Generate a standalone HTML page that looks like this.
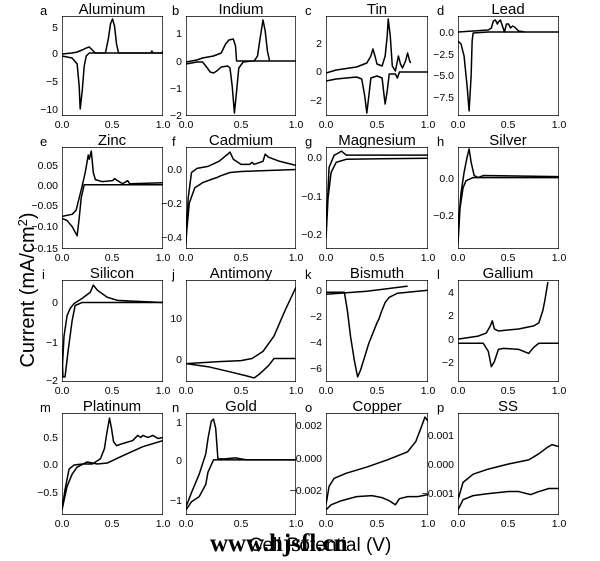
<!DOCTYPE html>
<html><head><meta charset="utf-8"><style>
html,body{margin:0;padding:0;background:#fff;}
svg{display:block;font-family:"Liberation Sans",sans-serif;}
.t{font-size:15px;text-anchor:middle;}
.l{font-size:13px;}
.y{font-size:10.5px;text-anchor:end;}
.x{font-size:10.5px;text-anchor:middle;}
polyline{fill:none;stroke:#000;stroke-width:1.5;vector-effect:non-scaling-stroke;stroke-linejoin:round;}
rect{fill:none;stroke:#000;stroke-width:1.4;vector-effect:non-scaling-stroke;}
</style></head><body>
<svg width="600" height="561" viewBox="0 0 600 561">
<!-- Row 1 -->
<svg x="62" y="16" width="101" height="100" viewBox="0 0 100 100" preserveAspectRatio="none"><rect x="0" y="0" width="100" height="100"/>
<polyline points="0,40 10,42 15,48 17,70 18,93 20,75 22,50 24,40 27,37 100,37"/>
<polyline points="0,38 10,37 15,36 20,34 24,32 27,31 30,34 33,37 43,37 46,22 48,8 50,3 52,10 54,28 56,37 88,37 89,35 90,37 99,37 100,35"/></svg>
<svg x="186" y="16" width="110" height="100" viewBox="0 0 100 100" preserveAspectRatio="none"><rect x="0" y="0" width="100" height="100"/>
<polyline points="0,48 10,46 15,46 18,50 22,56 25,57 28,55 32,51 38,50 40,52 42,70 44,97 46,75 48,52 52,46 60,45 100,45"/>
<polyline points="0,46 10,44 15,42 25,40 32,37 36,28 39,24 43,23 45,30 46,45 62,45 65,40 67,25 70,4 72,15 74,35 76,45"/></svg>
<svg x="326" y="16" width="102" height="100" viewBox="0 0 100 100" preserveAspectRatio="none"><rect x="0" y="0" width="100" height="100"/>
<polyline points="0,65 10,63 30,61 35,63 38,80 40,97 42,80 44,62 50,60 55,62 57,80 58,88 60,75 62,58 68,58 70,62 72,56 100,56"/>
<polyline points="0,57 10,54 30,51 40,47 44,40 46,33 48,40 50,48 55,50 58,40 60,20 61,3 63,20 65,50 68,55 71,40 73,48 75,52 78,45 80,37 82,45 83,47"/></svg>
<svg x="458" y="16" width="101" height="100" viewBox="0 0 100 100" preserveAspectRatio="none"><rect x="0" y="0" width="100" height="100"/>
<polyline points="0,25 3,28 6,40 9,70 11,95 13,60 14,25 15,17 30,16 100,16"/>
<polyline points="0,16 15,15 30,14 33,12 35,5 37,4 39,8 40,6 42,4 44,10 46,16 48,8 50,8 52,12 54,10 56,11 58,13 60,15 66,16"/></svg>
<!-- Row 2 -->
<svg x="62" y="147" width="101" height="102" viewBox="0 0 100 100" preserveAspectRatio="none"><rect x="0" y="0" width="100" height="100"/>
<polyline points="0,70 5,72 10,78 15,87 17,70 19,50 22,37 100,37"/>
<polyline points="0,68 10,66 14,62 17,50 20,38 23,25 26,8 27,12 29,4 31,25 33,32 40,34 50,33 52,31 55,33 60,36 65,33 67,36 100,35"/></svg>
<svg x="186" y="147" width="110" height="102" viewBox="0 0 100 100" preserveAspectRatio="none"><rect x="0" y="0" width="100" height="100"/>
<polyline points="0,95 2,50 5,25 10,21 20,19 30,14 38,7 40,5 43,12 50,17 58,17 60,15 62,17 70,14 72,7 75,10 85,14 100,18"/>
<polyline points="0,90 3,55 8,40 15,35 25,31 28,30 32,28 40,25 50,24 100,22"/></svg>
<svg x="326" y="147" width="102" height="102" viewBox="0 0 100 100" preserveAspectRatio="none"><rect x="0" y="0" width="100" height="100"/>
<polyline points="0,90 2,50 5,25 10,15 20,12 100,11"/>
<polyline points="0,85 3,20 8,8 12,6 15,4 20,8 40,8 100,8"/></svg>
<svg x="458" y="147" width="101" height="102" viewBox="0 0 100 100" preserveAspectRatio="none"><rect x="0" y="0" width="100" height="100"/>
<polyline points="0,95 2,60 5,40 8,33 15,30 100,30"/>
<polyline points="0,80 3,45 6,25 9,10 11,2 13,15 16,28 20,30 25,28 100,29"/></svg>
<!-- Row 3 -->
<svg x="62" y="280" width="101" height="102" viewBox="0 0 100 100" preserveAspectRatio="none"><rect x="0" y="0" width="100" height="100"/>
<polyline points="0,75 1,95 3,95 6,70 10,40 13,25 20,22 100,22"/>
<polyline points="0,92 2,55 5,35 8,28 12,23 20,18 28,12 31,5 35,10 45,17 55,20 100,22"/></svg>
<svg x="186" y="280" width="110" height="102" viewBox="0 0 100 100" preserveAspectRatio="none"><rect x="0" y="0" width="100" height="100"/>
<polyline points="0,82 20,85 40,90 55,94 62,96 67,92 75,84 80,77 100,77"/>
<polyline points="0,82 30,80 50,79 60,77 70,70 80,55 90,30 100,7"/></svg>
<svg x="326" y="280" width="102" height="102" viewBox="0 0 100 100" preserveAspectRatio="none"><rect x="0" y="0" width="100" height="100"/>
<polyline points="0,14 40,11 80,6"/>
<polyline points="0,12 18,12 21,30 24,55 28,80 31,95 34,88 38,75 42,62 46,52 50,42 52,38 54,32 58,22 62,17 70,13 100,10"/></svg>
<svg x="458" y="280" width="101" height="102" viewBox="0 0 100 100" preserveAspectRatio="none"><rect x="0" y="0" width="100" height="100"/>
<polyline points="0,62 25,62 30,70 33,85 36,80 40,68 45,67 60,68 70,72 75,66 80,62 100,62"/>
<polyline points="0,58 20,55 28,52 32,45 34,40 36,48 40,50 60,48 75,45 80,42 84,30 86,20 88,8 89,2"/></svg>
<!-- Row 4 -->
<svg x="62" y="413" width="101" height="102" viewBox="0 0 100 100" preserveAspectRatio="none"><rect x="0" y="0" width="100" height="100"/>
<polyline points="0,95 3,75 7,55 12,51 20,50 30,50 38,45 42,35 44,22 47,5 49,15 51,28 54,32 60,30 70,27 75,22 78,24 80,22 85,24 90,22 95,25 100,24"/>
<polyline points="0,95 5,72 10,60 15,53 25,48 35,50 45,49 60,42 80,33 100,27"/></svg>
<svg x="186" y="413" width="110" height="102" viewBox="0 0 100 100" preserveAspectRatio="none"><rect x="0" y="0" width="100" height="100"/>
<polyline points="0,92 5,78 12,60 15,50 18,40 20,25 23,8 25,6 27,15 29,45 35,45 45,44 55,46 100,46"/>
<polyline points="0,95 5,87 12,82 18,70 20,58 25,46 100,46"/></svg>
<svg x="326" y="413" width="102" height="102" viewBox="0 0 100 100" preserveAspectRatio="none"><rect x="0" y="0" width="100" height="100"/>
<polyline points="0,90 3,72 8,64 20,59 40,53 60,46 80,38 88,28 93,15 97,4 100,8"/>
<polyline points="0,95 5,90 15,86 30,82 45,81 55,83 62,86 68,90 72,84 80,82 90,82 100,80"/></svg>
<svg x="458" y="413" width="101" height="102" viewBox="0 0 100 100" preserveAspectRatio="none"><rect x="0" y="0" width="100" height="100"/>
<polyline points="0,85 5,68 15,60 30,55 50,50 70,46 80,40 88,34 93,31 100,33"/>
<polyline points="0,95 5,85 15,81 30,79 50,77 60,77 72,80 80,77 90,74 100,74"/></svg>

<!-- titles -->
<g class="t">
<text x="112" y="14">Aluminum</text><text x="241" y="14">Indium</text><text x="377" y="14">Tin</text><text x="508" y="14">Lead</text>
<text x="112" y="145">Zinc</text><text x="241" y="145">Cadmium</text><text x="377" y="145">Magnesium</text><text x="508" y="145">Silver</text>
<text x="112" y="278">Silicon</text><text x="241" y="278">Antimony</text><text x="377" y="278">Bismuth</text><text x="508" y="278">Gallium</text>
<text x="112" y="411">Platinum</text><text x="241" y="411">Gold</text><text x="377" y="411">Copper</text><text x="508" y="411">SS</text>
</g>
<g class="l">
<text x="40" y="15">a</text><text x="172" y="15">b</text><text x="305" y="15">c</text><text x="437" y="15">d</text>
<text x="40" y="146">e</text><text x="172" y="146">f</text><text x="305" y="146">g</text><text x="437" y="146">h</text>
<text x="42" y="279">i</text><text x="172" y="279">j</text><text x="305" y="279">k</text><text x="437" y="279">l</text>
<text x="40" y="412">m</text><text x="172" y="412">n</text><text x="305" y="412">o</text><text x="437" y="412">p</text>
</g>
<!-- y ticks -->
<g class="y">
<text x="58" y="31">5</text><text x="58" y="57">0</text><text x="58" y="85">−5</text><text x="58" y="113">−10</text>
<text x="182" y="37">1</text><text x="182" y="65">0</text><text x="182" y="92">−1</text><text x="182" y="119">−2</text>
<text x="322" y="47">2</text><text x="322" y="75">0</text><text x="322" y="104">−2</text>
<text x="454" y="36">0.0</text><text x="454" y="58">−2.5</text><text x="454" y="79">−5.0</text><text x="454" y="101">−7.5</text>
<text x="58" y="169">0.05</text><text x="58" y="189">0.00</text><text x="58" y="209">−0.05</text><text x="58" y="230">−0.10</text><text x="58" y="252">−0.15</text>
<text x="182" y="173">0.0</text><text x="182" y="207">−0.2</text><text x="182" y="241">−0.4</text>
<text x="322" y="161">0.0</text><text x="322" y="200">−0.1</text><text x="322" y="238">−0.2</text>
<text x="454" y="182">0.0</text><text x="454" y="219">−0.2</text>
<text x="58" y="306">0</text><text x="58" y="346">−1</text><text x="58" y="384">−2</text>
<text x="182" y="322">10</text><text x="182" y="363">0</text>
<text x="322" y="294">0</text><text x="322" y="320">−2</text><text x="322" y="346">−4</text><text x="322" y="372">−6</text>
<text x="454" y="296">4</text><text x="454" y="319">2</text><text x="454" y="343">0</text><text x="454" y="366">−2</text>
<text x="58" y="441">0.5</text><text x="58" y="468">0.0</text><text x="58" y="496">−0.5</text>
<text x="182" y="426">1</text><text x="182" y="464">0</text><text x="182" y="504">−1</text>
<text x="322" y="429">0.002</text><text x="322" y="462">0.000</text><text x="322" y="494">−0.002</text>
<text x="454" y="439">0.001</text><text x="454" y="468">0.000</text><text x="454" y="497">−0.001</text>
</g>
<!-- x ticks -->
<g class="x">
<text x="62" y="128">0.0</text><text x="112" y="128">0.5</text><text x="163" y="128">1.0</text>
<text x="186" y="128">0.0</text><text x="241" y="128">0.5</text><text x="296" y="128">1.0</text>
<text x="326" y="128">0.0</text><text x="377" y="128">0.5</text><text x="428" y="128">1.0</text>
<text x="458" y="128">0.0</text><text x="508" y="128">0.5</text><text x="559" y="128">1.0</text>
<text x="62" y="261">0.0</text><text x="112" y="261">0.5</text><text x="163" y="261">1.0</text>
<text x="186" y="261">0.0</text><text x="241" y="261">0.5</text><text x="296" y="261">1.0</text>
<text x="326" y="261">0.0</text><text x="377" y="261">0.5</text><text x="428" y="261">1.0</text>
<text x="458" y="261">0.0</text><text x="508" y="261">0.5</text><text x="559" y="261">1.0</text>
<text x="62" y="394">0.0</text><text x="112" y="394">0.5</text><text x="163" y="394">1.0</text>
<text x="186" y="394">0.0</text><text x="241" y="394">0.5</text><text x="296" y="394">1.0</text>
<text x="326" y="394">0.0</text><text x="377" y="394">0.5</text><text x="428" y="394">1.0</text>
<text x="458" y="394">0.0</text><text x="508" y="394">0.5</text><text x="559" y="394">1.0</text>
<text x="62" y="527">0.0</text><text x="112" y="527">0.5</text><text x="163" y="527">1.0</text>
<text x="186" y="527">0.0</text><text x="241" y="527">0.5</text><text x="296" y="527">1.0</text>
<text x="326" y="527">0.0</text><text x="377" y="527">0.5</text><text x="428" y="527">1.0</text>
<text x="458" y="527">0.0</text><text x="508" y="527">0.5</text><text x="559" y="527">1.0</text>
</g>
<text x="34" y="290" transform="rotate(-90 34 290)" style="font-size:20px;text-anchor:middle">Current (mA/cm<tspan dy="-7" style="font-size:13px">2</tspan><tspan dy="7">)</tspan></text>
<text x="320" y="551" style="font-size:19px;text-anchor:middle">Cell Potential (V)</text>
<text x="210" y="551" style="font-size:25px;font-weight:bold;font-family:'Liberation Serif',serif">www.hjsfl.cn</text>
</svg>
</body></html>
